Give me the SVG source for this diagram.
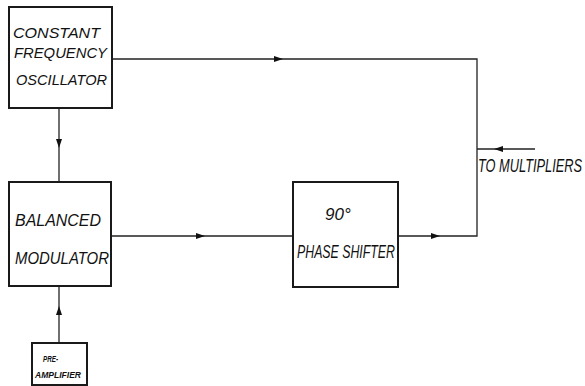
<svg xmlns="http://www.w3.org/2000/svg" width="585" height="386" viewBox="0 0 585 386">
<style>
.box{fill:#fff;stroke:#1a1a1a;stroke-width:2}
.ln{fill:none;stroke:#222;stroke-width:1.3}
.t{font-family:"Liberation Sans",Arial,sans-serif;font-style:italic;fill:#111}
.ah{fill:#111}
</style>
<rect width="585" height="386" fill="#fff"/>
<g id="connectors">
<path class="ln" d="M112 59 H477 V236 H398"/>
<path class="ln" d="M59 108 V182"/>
<path class="ln" d="M111 236 H293"/>
<path class="ln" d="M59 343 V286"/>
<path class="ln" d="M477 149 H535"/>
<polygon class="ah" points="283,59 274,56 274,62"/>
<polygon class="ah" points="59,148 56,139 62,139"/>
<polygon class="ah" points="205,236 196,233 196,239"/>
<polygon class="ah" points="440,236 431,233 431,239"/>
<polygon class="ah" points="59,306 56,315 62,315"/>
<polygon class="ah" points="494,149 503,146 503,152"/>
</g>
<g id="oscillator">
<rect class="box" x="9" y="7" width="103" height="101"/>
<text class="t" x="13" y="38" font-size="14" textLength="87" lengthAdjust="spacingAndGlyphs">CONSTANT</text>
<text class="t" x="14" y="58" font-size="14" textLength="93" lengthAdjust="spacingAndGlyphs">FREQUENCY</text>
<text class="t" x="16" y="85" font-size="14" textLength="91" lengthAdjust="spacingAndGlyphs">OSCILLATOR</text>
</g>
<g id="modulator">
<rect class="box" x="9" y="182" width="102" height="104"/>
<text class="t" x="15" y="226" font-size="17" textLength="86" lengthAdjust="spacingAndGlyphs">BALANCED</text>
<text class="t" x="15" y="264" font-size="17" textLength="94" lengthAdjust="spacingAndGlyphs">MODULATOR</text>
</g>
<g id="phaseshifter">
<rect class="box" x="293" y="182" width="105" height="105"/>
<text class="t" x="325" y="220" font-size="17">90°</text>
<text class="t" x="297" y="258" font-size="18" textLength="98" lengthAdjust="spacingAndGlyphs">PHASE SHIFTER</text>
</g>
<g id="preamp">
<rect class="box" x="32" y="343" width="55" height="42"/>
<text class="t" x="43" y="362" font-size="9" font-weight="bold" textLength="15" lengthAdjust="spacingAndGlyphs">PRE-</text>
<text class="t" x="35" y="378" font-size="9" font-weight="bold" textLength="46" lengthAdjust="spacingAndGlyphs">AMPLIFIER</text>
</g>
<g id="output-label" transform="translate(0,172) scale(1,1.4)">
<text class="t" x="478" y="0" font-size="13" textLength="104" lengthAdjust="spacingAndGlyphs">TO MULTIPLIERS</text>
</g>
</svg>
